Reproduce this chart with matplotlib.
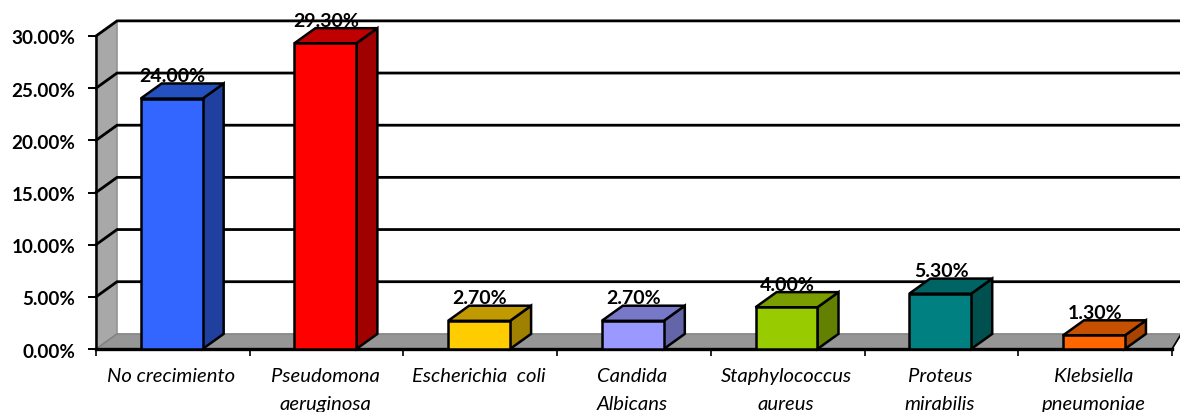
import matplotlib
matplotlib.use("Agg")
import matplotlib.pyplot as plt
from matplotlib.patches import Polygon
from matplotlib.transforms import ScaledTranslation
import numpy as np

plt.rcParams['font.family'] = ['Lato', 'DejaVu Sans']

# Data
categories = ['No crecimiento', 'Pseudomona\naeruginosa', 'Escherichia  coli', 'Candida\nAlbicans',
              'Staphylococcus\naureus', 'Proteus\nmirabilis', 'Klebsiella\npneumoniae']
values = [24.0, 29.3, 2.7, 2.7, 4.0, 5.3, 1.3]
front_colors = ['#3366FF', '#FF0000', '#FFCC00', '#9999FF', '#99CC00', '#008080', '#FF6600']
top_colors = ['#2450C0', '#C00000', '#C09A00', '#7878C8', '#7A9E00', '#006464', '#C45000']
side_colors = ['#2040A0', '#A00000', '#A08000', '#6464A8', '#648000', '#005050', '#A84400']
y_ticks = [0, 5, 10, 15, 20, 25, 30]

# 3D look: depth offset in category units and percent
dx = 0.137
dy = 1.45
bar_w = 0.403
gap = (1 - bar_w) / 2 - 0.008

fig = plt.figure(figsize=(11.8, 4.12), dpi=100)
ax = fig.add_axes([96 / 1180, 63 / 412, 1076 / 1180, 313 / 412])
ax.set_xlim(0, 7)
ax.set_ylim(0, 30)
for s in ax.spines.values():
    s.set_visible(False)
ax.patch.set_visible(False)


def poly(pts, fc, z, ec='black', lw=1.8):
    ax.add_patch(Polygon(pts, closed=True, facecolor=fc, edgecolor=ec, linewidth=lw,
                         zorder=z, clip_on=False, joinstyle='miter'))


# side wall and floor
poly([(0, 0), (dx, dy), (dx, 30 + dy), (0, 30)], '#A8A8A8', 1, ec='#8c8c8c', lw=1)
poly([(0, 0), (dx, dy), (7.06, dy), (7, 0)], '#969696', 1, ec='#808080', lw=1)

# gridlines run along the side wall and the back wall
for t in y_ticks[1:]:
    ax.plot([0, dx, 7.06], [t, t + dy, t + dy], color='black', lw=2.0, zorder=2,
            clip_on=False, solid_joinstyle='miter')
ax.plot([0, 0], [0, 30], color='black', lw=1.8, zorder=3, clip_on=False)
ax.plot([0, 7], [0, 0], color='black', lw=2.4, zorder=3, clip_on=False)
ax.plot([7, 7.06], [0, dy], color='black', lw=1.2, zorder=3, clip_on=False)

# bars
for i, v in enumerate(values):
    x0 = i + gap
    x1 = x0 + bar_w
    poly([(x1, 0), (x1 + dx, dy), (x1 + dx, v + dy), (x1, v)], side_colors[i], 5)
    poly([(x0, v), (x0 + dx, v + dy), (x1 + dx, v + dy), (x1, v)], top_colors[i], 5)
    poly([(x0, 0), (x1, 0), (x1, v), (x0, v)], front_colors[i], 6)
    ax.text(x0 + bar_w / 2 + 0.006, v + dy + 0.68, '%.2f%%' % v, ha='center', va='center', fontsize=14,
            fontweight='bold', color='black', zorder=8, clip_on=False)

# axis ticks
ax.set_yticks(y_ticks)
ax.set_yticklabels(['%.2f%%' % t for t in y_ticks], fontsize=13.6, fontweight='bold')
ax.tick_params(axis='y', length=6, width=1.4, pad=9)
down = ScaledTranslation(0, -1.5 / 100, fig.dpi_scale_trans)
for lab in ax.get_yticklabels():
    lab.set_transform(lab.get_transform() + down)
ax.set_xticks(np.arange(0, 8))
ax.set_xticklabels([])
ax.tick_params(axis='x', which='major', length=5, width=1.2, direction='out')
ax.set_xticks(np.arange(7) + 0.49, minor=True)
ax.set_xticklabels(categories, minor=True, fontsize=14.6, fontstyle='italic', linespacing=1.72)
ax.tick_params(axis='x', which='minor', length=0, pad=14)
for lab in ax.get_xticklabels(minor=True):
    lab.set_verticalalignment('top')

fig.savefig('out.png', dpi=100)
